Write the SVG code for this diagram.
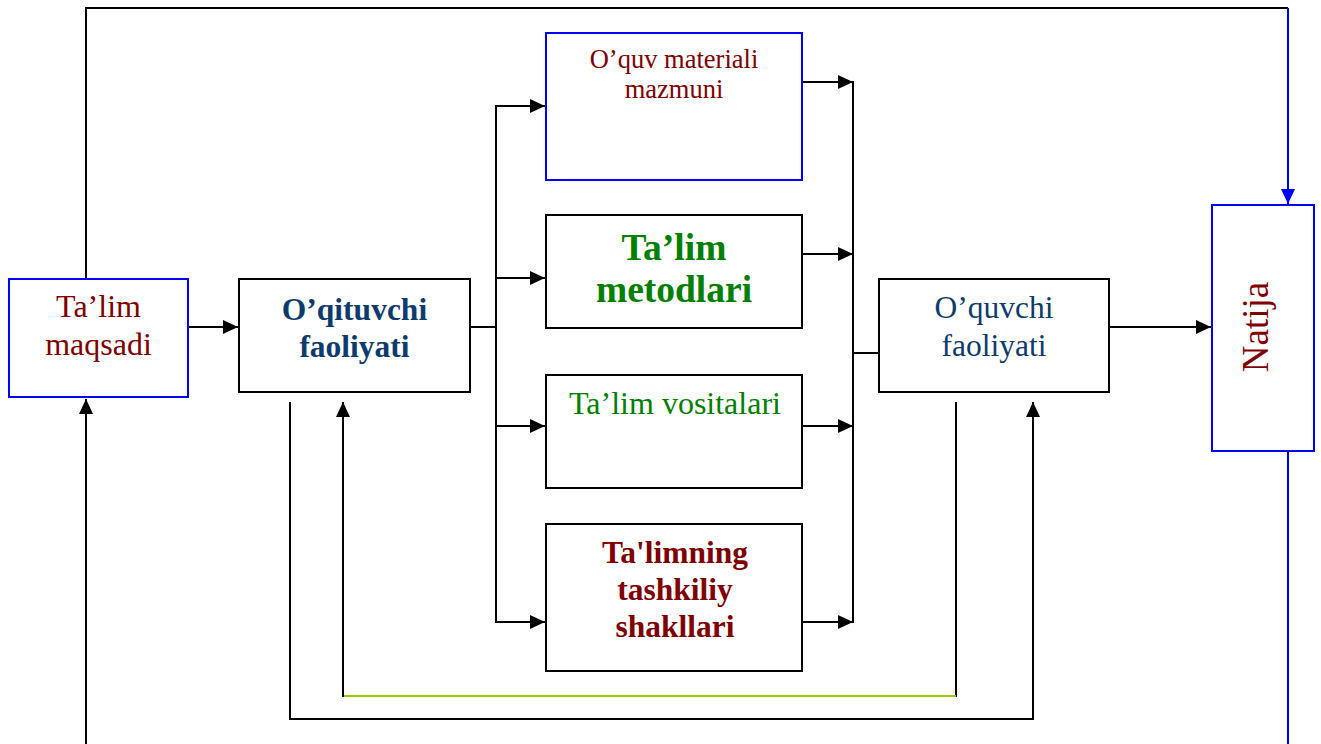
<svg xmlns="http://www.w3.org/2000/svg" width="1321" height="744" viewBox="0 0 1321 744">
<style>
  .box { fill: #ffffff; stroke: #000000; stroke-width: 2; }
  .bbox { fill: #ffffff; stroke: #0000ff; stroke-width: 2; }
  .ln { fill: none; stroke: #000000; stroke-width: 2; }
  .arr { fill: none; stroke: #000000; stroke-width: 2; marker-end: url(#ah); }
  .barr { fill: none; stroke: #0000ff; stroke-width: 2; marker-end: url(#bah); }
  .bln { fill: none; stroke: #0000ff; stroke-width: 2; }
  .gln { fill: none; stroke: #99cc00; stroke-width: 2; }
  text { font-family: "Liberation Serif", "Times New Roman", serif; text-anchor: middle; }
  .red { fill: #800000; }
  .navy { fill: #0d3b6e; }
  .green { fill: #008000; }
  .b { font-weight: bold; }
</style>
<defs>
  <marker id="ah" markerUnits="userSpaceOnUse" markerWidth="15" markerHeight="14" refX="15" refY="7" orient="auto">
    <path d="M0,0 L15,7 L0,14 z" fill="#000000"/>
  </marker>
  <marker id="bah" markerUnits="userSpaceOnUse" markerWidth="15" markerHeight="14" refX="15" refY="7" orient="auto">
    <path d="M0,0 L15,7 L0,14 z" fill="#0000ff"/>
  </marker>
</defs>
<rect width="1321" height="744" fill="#ffffff"/>

<g id="connectors">
  <polyline class="ln" points="86,279 86,8 1288,8"/>
  <polyline class="barr" points="1288,8 1288,204"/>
  <line class="bln" x1="1288" y1="451" x2="1288" y2="744"/>
  <line class="arr" x1="86" y1="744" x2="86" y2="399"/>
  <line class="arr" x1="188" y1="327" x2="238" y2="327"/>
  <line class="ln" x1="470" y1="327" x2="496" y2="327"/>
  <line class="ln" x1="496" y1="105" x2="496" y2="623"/>
  <line class="arr" x1="495" y1="106" x2="545" y2="106"/>
  <line class="arr" x1="495" y1="278" x2="545" y2="278"/>
  <line class="arr" x1="495" y1="426" x2="545" y2="426"/>
  <line class="arr" x1="495" y1="622" x2="545" y2="622"/>
  <line class="arr" x1="802" y1="82" x2="853" y2="82"/>
  <line class="arr" x1="802" y1="254" x2="853" y2="254"/>
  <line class="arr" x1="802" y1="426" x2="853" y2="426"/>
  <line class="arr" x1="802" y1="622" x2="853" y2="622"/>
  <line class="ln" x1="853" y1="81" x2="853" y2="623"/>
  <line class="ln" x1="853" y1="353" x2="879" y2="353"/>
  <line class="arr" x1="1109" y1="327" x2="1211" y2="327"/>
  <polyline class="ln" points="290,402 290,719 1033,719"/>
  <line class="arr" x1="1033" y1="720" x2="1033" y2="402"/>
  <line class="ln" x1="956" y1="402" x2="956" y2="697"/>
  <line class="gln" x1="956" y1="696" x2="343" y2="696"/>
  <line class="arr" x1="343" y1="697" x2="343" y2="402"/>
</g>

<g id="talim-maqsadi">
  <rect class="bbox" x="9" y="279" width="179" height="118"/>
  <text class="red" x="98.5" y="317" font-size="32">Ta’lim</text>
  <text class="red" x="98.5" y="355" font-size="32">maqsadi</text>
</g>

<g id="oqituvchi-faoliyati">
  <rect class="box" x="239" y="279" width="231" height="113"/>
  <text class="navy b" x="354.5" y="320" font-size="31.5">O’qituvchi</text>
  <text class="navy b" x="354.5" y="357" font-size="31.5">faoliyati</text>
</g>

<g id="oquv-materiali">
  <rect class="bbox" x="546" y="33" width="256" height="147"/>
  <text class="red" x="674" y="68" font-size="26.5">O’quv materiali</text>
  <text class="red" x="674" y="98" font-size="26.5">mazmuni</text>
</g>

<g id="talim-metodlari">
  <rect class="box" x="546" y="215" width="256" height="113"/>
  <text class="green b" x="674" y="260" font-size="37.5">Ta’lim</text>
  <text class="green b" x="674" y="302" font-size="37.5">metodlari</text>
</g>

<g id="talim-vositalari">
  <rect class="box" x="546" y="375" width="256" height="113"/>
  <text class="green" x="675" y="414" font-size="32">Ta’lim vositalari</text>
</g>

<g id="talimning-shakllari">
  <rect class="box" x="546" y="524" width="256" height="147"/>
  <text class="red b" x="675" y="563" font-size="31.5">Ta'limning</text>
  <text class="red b" x="675" y="600" font-size="31.5">tashkiliy</text>
  <text class="red b" x="675" y="637" font-size="31.5">shakllari</text>
</g>

<g id="oquvchi-faoliyati">
  <rect class="box" x="879" y="279" width="230" height="113"/>
  <text class="navy" x="994" y="318" font-size="31.5">O’quvchi</text>
  <text class="navy" x="994" y="356" font-size="31.5">faoliyati</text>
</g>

<g id="natija">
  <rect class="bbox" x="1212" y="205" width="102" height="246"/>
  <text class="red" x="0" y="0" font-size="37" transform="translate(1268,327) rotate(-90)">Natija</text>
</g>
</svg>
